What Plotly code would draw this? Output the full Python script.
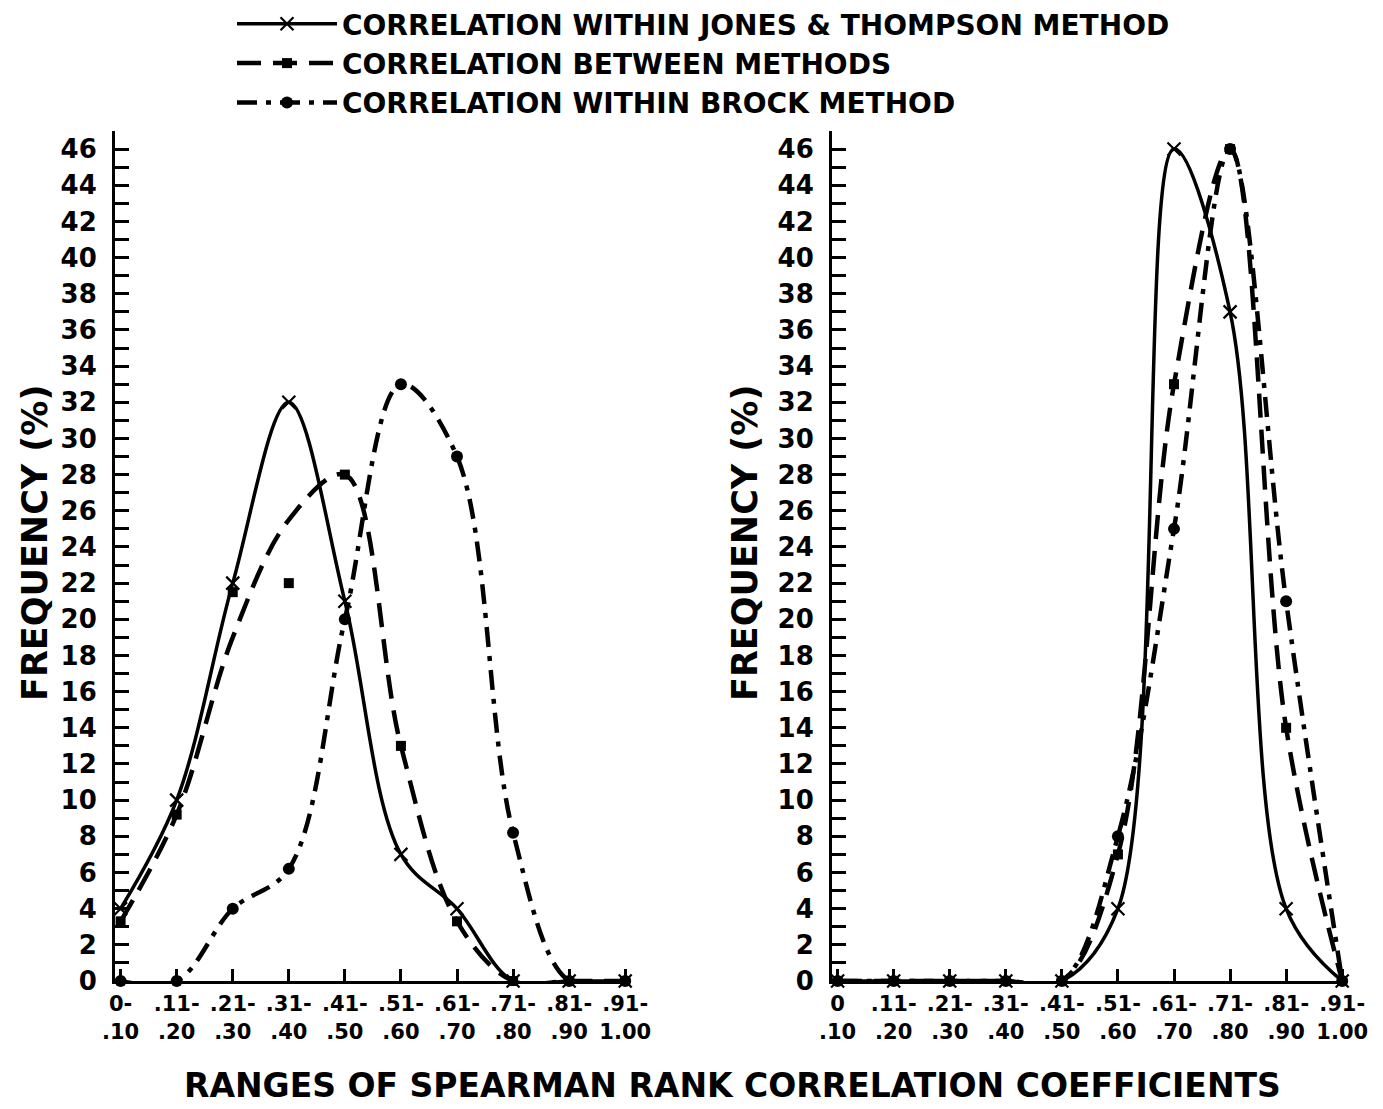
import plotly.graph_objects as go

# ---------------- data ----------------
ranges_left = ["0-<br>.10", ".11-<br>.20", ".21-<br>.30", ".31-<br>.40", ".41-<br>.50",
               ".51-<br>.60", ".61-<br>.70", ".71-<br>.80", ".81-<br>.90", ".91-<br>1.00"]
ranges_right = ["0<br>.10", ".11-<br>.20", ".21-<br>.30", ".31-<br>.40", ".41-<br>.50",
                ".51-<br>.60", ".61-<br>.70", ".71-<br>.80", ".81-<br>.90", ".91-<br>1.00"]

# left panel (frequency %): plotted points
jones_left = [4, 10, 22, 32, 21, 7, 4, 0, 0, 0]
between_left = [3.3, 9.2, 21.5, 22, 28, 13, 3.3, 0, 0, 0]
brock_left = [0, 0, 4, 6.2, 20, 33, 29, 8.2, 0, 0]
# hand-drawn curve of "between methods" (does not pass through every plotted point)
between_left_curve = [3.3, 9.2, 19, 25.5, 28, 13, 3.3, 0, 0, 0]

# right panel (frequency %)
jones_right = [0, 0, 0, 0, 0, 4, 46, 37, 4, 0]
between_right = [0, 0, 0, 0, 0, 7, 33, 46, 14, 0]
brock_right = [0, 0, 0, 0, 0, 8, 25, 46, 21, 0]

series_names = ["CORRELATION WITHIN JONES & THOMPSON METHOD",
                "CORRELATION BETWEEN METHODS",
                "CORRELATION WITHIN BROCK METHOD"]

y_ticks = list(range(0, 47, 2))

# ---------------- styling ----------------
FONT = "DejaVu Sans"
W, H = 1383, 1109

lines = [
    dict(color="black", width=3.5, dash="solid", shape="spline", smoothing=1.0),
    dict(color="black", width=4.5, dash="24px,12px", shape="spline", smoothing=1.0),
    dict(color="black", width=4.5, dash="20px,9px,5px,9px", shape="spline", smoothing=1.0),
]
markers = [
    dict(symbol="x-thin-open", size=13, color="black", line=dict(width=2.2, color="black")),
    dict(symbol="square", size=10, color="black"),
    dict(symbol="circle", size=12, color="black"),
]

fig = go.Figure()

left_points = [jones_left, between_left, brock_left]
left_curves = [jones_left, between_left_curve, brock_left]
right_points = [jones_right, between_right, brock_right]

for i, name in enumerate(series_names):
    fig.add_trace(go.Scatter(x=ranges_left, y=left_curves[i], mode="lines", name=name,
                             line=lines[i], xaxis="x", yaxis="y", cliponaxis=False,
                             legendgroup=name, showlegend=False))
    fig.add_trace(go.Scatter(x=ranges_left, y=left_points[i], mode="markers", name=name,
                             marker=markers[i], xaxis="x", yaxis="y", cliponaxis=False,
                             legendgroup=name, showlegend=False))
for i, name in enumerate(series_names):
    fig.add_trace(go.Scatter(x=ranges_right, y=right_points[i], mode="lines+markers", name=name,
                             line=lines[i], marker=markers[i], xaxis="x2", yaxis="y2",
                             cliponaxis=False, legendgroup=name, showlegend=False))
# legend entries (empty traces carrying the series styles)
for i, name in enumerate(series_names):
    fig.add_trace(go.Scatter(x=[None], y=[None], mode="lines+markers", name=name,
                             line=lines[i], marker=markers[i], xaxis="x", yaxis="y",
                             legendgroup=name, showlegend=True))


def px_x(p):
    return p / W


def px_y(p):
    return 1 - p / H


y_common = dict(range=[0, 47], tickvals=y_ticks, ticks="inside", ticklen=14, tickwidth=2.5,
                tickcolor="black", showline=True, linecolor="black", linewidth=3,
                showgrid=False, zeroline=False, automargin=False, ticklabelstandoff=10,
                minor=dict(dtick=1, tick0=0, ticks="inside", ticklen=14, tickwidth=2.5,
                           tickcolor="black", showgrid=False),
                tickfont=dict(family=FONT, size=26, color="black", weight="bold"),
                domain=[px_y(981), px_y(131)])

x_common = dict(type="category", range=[-0.1, 9.05], ticks="inside", ticklen=12, tickwidth=2.5,
                tickcolor="black", showline=True, linecolor="black", linewidth=3,
                showgrid=False, zeroline=False, tickangle=0, automargin=False,
                ticklabelstandoff=2,
                tickfont=dict(family=FONT, size=21, color="black", weight="bold"))

fig.update_layout(
    template="none",
    width=W, height=H,
    paper_bgcolor="white", plot_bgcolor="white",
    margin=dict(l=0, r=0, t=0, b=0, pad=0, autoexpand=False),
    xaxis=dict(**x_common, domain=[px_x(115), px_x(628)], anchor="y"),
    yaxis=dict(**y_common, anchor="x"),
    xaxis2=dict(**x_common, domain=[px_x(832), px_x(1345)], anchor="y2"),
    yaxis2=dict(**y_common, anchor="x2"),
    legend=dict(x=px_x(232), y=px_y(-1), xanchor="left", yanchor="top",
                font=dict(family=FONT, size=28, color="black", weight="bold"),
                bgcolor="rgba(0,0,0,0)", borderwidth=0, itemwidth=100, tracegroupgap=0),
    annotations=[
        dict(text="FREQUENCY (%)", textangle=-90, x=px_x(35), y=px_y(543), xref="paper", yref="paper",
             xanchor="center", yanchor="middle", showarrow=False,
             font=dict(family=FONT, size=35, color="black", weight="bold")),
        dict(text="FREQUENCY (%)", textangle=-90, x=px_x(745), y=px_y(543), xref="paper", yref="paper",
             xanchor="center", yanchor="middle", showarrow=False,
             font=dict(family=FONT, size=35, color="black", weight="bold")),
        dict(text="RANGES OF SPEARMAN RANK CORRELATION COEFFICIENTS", x=px_x(733), y=px_y(1085),
             xref="paper", yref="paper", xanchor="center", yanchor="middle", showarrow=False,
             font=dict(family=FONT, size=33, color="black", weight="bold")),
    ],
)

fig.write_html("out.html", config={"displayModeBar": False},
               post_script="document.body.style.margin='0px';document.body.style.overflow='hidden';")
